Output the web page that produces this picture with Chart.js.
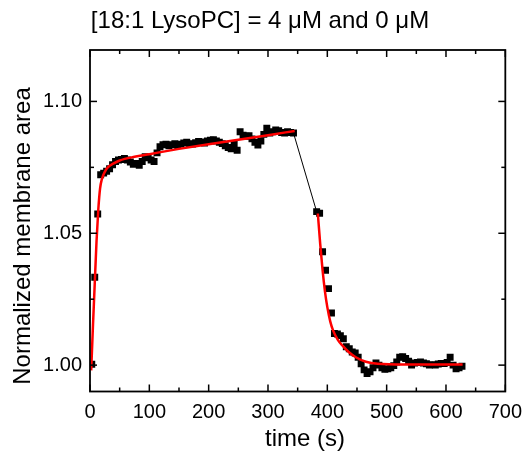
<!DOCTYPE html>
<html>
<head>
<meta charset="utf-8">
<script src="https://cdn.jsdelivr.net/npm/chart.js@4/dist/chart.umd.min.js"></script>
<style>
html,body{margin:0;padding:0;background:#fff;}
#wrap{width:531px;height:457px;position:relative;}
</style>
</head>
<body>
<div id="wrap"><canvas id="c"></canvas></div>
<script>
// ---- data ----
const titleText = "[18:1 LysoPC] = 4 \u03bcM and 0 \u03bcM";
const xTitle = "time (s)";
const yTitle = "Normalized membrane area";

// segment 1: 4 uM LysoPC (time s, normalized area)
const seg1Time = [3,8,13,18,23,28,33,38,43,48,53,58,63,68,73,78,83,88,93,98,103,108,113,118,123,128,133,138,143,148,153,158,163,168,173,178,183,188,193,198,203,208,213,218,223,228,233,238,243,248,253,258,263,268,273,278,283,288,293,298,303,308,313,318,323,328,333,338,343];
const seg1Area = [1.0003,1.0333,1.0573,1.0722,1.0728,1.0735,1.0745,1.0760,1.0772,1.0778,1.0780,1.0784,1.0778,1.0770,1.0762,1.0765,1.0758,1.0772,1.0790,1.0786,1.0778,1.0772,1.0805,1.0828,1.0836,1.0838,1.0832,1.0836,1.0840,1.0833,1.0838,1.0842,1.0845,1.0840,1.0838,1.0843,1.0848,1.0846,1.0842,1.0850,1.0853,1.0855,1.0850,1.0845,1.0840,1.0832,1.0825,1.0820,1.0840,1.0815,1.0885,1.0872,1.0868,1.0870,1.0858,1.0845,1.0835,1.0850,1.0875,1.0898,1.0880,1.0885,1.0892,1.0889,1.0882,1.0880,1.0885,1.0882,1.0880];

// segment 2: 0 uM LysoPC
const seg2Time = [382,387,392,397,402,407,412,417,422,427,432,437,442,447,452,457,462,467,472,477,482,487,492,497,502,507,512,517,522,527,532,537,542,547,552,557,562,567,572,577,582,587,592,597,602,607,612,617,622,627];
const seg2Area = [1.0582,1.0576,1.0430,1.0360,1.0290,1.0198,1.0120,1.0118,1.0112,1.0100,1.0070,1.0062,1.0050,1.0046,1.0030,1.0005,0.9982,0.9968,0.9975,0.9990,1.0008,1.0000,0.9990,0.9984,0.9986,0.9990,0.9998,1.0012,1.0030,1.0032,1.0025,1.0015,1.0000,1.0008,1.0010,1.0012,1.0008,1.0005,1.0000,1.0002,1.0000,1.0004,1.0006,1.0006,1.0010,1.0030,1.0000,0.9986,0.9990,0.9996];

// fitted curves (red)
const fit1Time = [2,5,8,11,14,17,20,25,30,40,50,75,100,150,200,250,300,345];
const fit1Area = [0.998,1.015,1.031,1.047,1.059,1.067,1.0705,1.0733,1.0750,1.0765,1.0776,1.0790,1.0800,1.0820,1.0838,1.0855,1.0872,1.0888];
const fit2Time = [384,388,392,396,400,405,410,418,426,436,448,465,485,530,580,628];
const fit2Area = [1.0575,1.046,1.036,1.028,1.022,1.0165,1.0130,1.0095,1.0073,1.0050,1.0030,1.0013,1.0005,1.0002,1.0002,1.0002];

// ticks
const xMajorTicks = [0,100,200,300,400,500,600,700];
const xMinorTicks = [50,150,250,350,450,550,650];
const yMajorTicks = [1.00,1.05,1.10];
const yMinorTicks = [1.025,1.075];

const pts = (ts, vs) => ts.map((t,i)=>({x:t,y:vs[i]}));
const connector = [
  {x: seg1Time[seg1Time.length-1], y: seg1Area[seg1Area.length-1]},
  {x: seg2Time[0], y: seg2Area[0]}
];

const FONT = "'Liberation Sans', Arial, sans-serif";

const decor = {
  id:'decor',
  afterDraw(chart){
    const {ctx, chartArea:a, scales:{x,y}} = chart;
    ctx.save();
    ctx.strokeStyle = '#000';
    ctx.lineWidth = 1.8;
    ctx.strokeRect(a.left, a.top, a.right-a.left, a.bottom-a.top);
    ctx.lineWidth = 1.5;
    const seg = (x1,y1,x2,y2)=>{ctx.beginPath();ctx.moveTo(x1,y1);ctx.lineTo(x2,y2);ctx.stroke();};
    xMajorTicks.forEach(v=>{const p=x.getPixelForValue(v); seg(p,a.bottom,p,a.bottom-7); seg(p,a.top,p,a.top+7);});
    xMinorTicks.forEach(v=>{const p=x.getPixelForValue(v); seg(p,a.bottom,p,a.bottom-4); seg(p,a.top,p,a.top+4);});
    yMajorTicks.forEach(v=>{const p=y.getPixelForValue(v); seg(a.left,p,a.left+7,p); seg(a.right,p,a.right-7,p);});
    yMinorTicks.forEach(v=>{const p=y.getPixelForValue(v); seg(a.left,p,a.left+4,p); seg(a.right,p,a.right-4,p);});
    ctx.fillStyle = '#000';
    ctx.font = "24px " + FONT;
    ctx.textAlign = 'center';
    ctx.textBaseline = 'alphabetic';
    ctx.fillText(titleText, 260, 28);
    ctx.fillText(xTitle, 305, 446);
    ctx.translate(30, 236);
    ctx.rotate(-Math.PI/2);
    ctx.fillText(yTitle, 0, 0);
    ctx.restore();
  }
};

new Chart(document.getElementById('c'), {
  type: 'scatter',
  data: {
    datasets: [
      {label:'fit1', data: pts(fit1Time, fit1Area), showLine:true, borderColor:'#ff0000', borderWidth:2.5,
       pointRadius:0, cubicInterpolationMode:'monotone', order:0},
      {label:'fit2', data: pts(fit2Time, fit2Area), showLine:true, borderColor:'#ff0000', borderWidth:2.5,
       pointRadius:0, cubicInterpolationMode:'monotone', order:0},
      {label:'data1', data: pts(seg1Time, seg1Area), showLine:false, pointStyle:'rect', pointRadius:4.9,
       backgroundColor:'#000', borderColor:'#000', borderWidth:0, order:2},
      {label:'data2', data: pts(seg2Time, seg2Area), showLine:false, pointStyle:'rect', pointRadius:4.9,
       backgroundColor:'#000', borderColor:'#000', borderWidth:0, order:2},
      {label:'gap', data: connector, showLine:true, borderColor:'#000', borderWidth:1, pointRadius:0, order:3}
    ]
  },
  options: {
    responsive:true, maintainAspectRatio:false, animation:false,
    layout:{padding:{left:0,right:19,top:50,bottom:0}},
    plugins:{legend:{display:false}, title:{display:false}, tooltip:{enabled:false}},
    scales:{
      x:{type:'linear', min:0, max:700,
         grid:{display:false, drawTicks:false}, border:{display:false},
         afterBuildTicks(s){ s.ticks = xMajorTicks.map(v=>({value:v})); },
         ticks:{color:'#000', font:{size:20, family:FONT}, padding:9, maxRotation:0, autoSkip:false},
         afterFit(s){ s.height = 65.5; }},
      y:{type:'linear', min:0.99, max:1.1195,
         grid:{display:false, drawTicks:false}, border:{display:false},
         afterBuildTicks(s){ s.ticks = yMajorTicks.map(v=>({value:v})); },
         ticks:{color:'#000', font:{size:20, family:FONT}, padding:8, autoSkip:false,
                callback:(v)=>Number(v).toFixed(2)},
         afterFit(s){ s.width = 90; }}
    }
  },
  plugins:[decor]
});
</script>
</body>
</html>
